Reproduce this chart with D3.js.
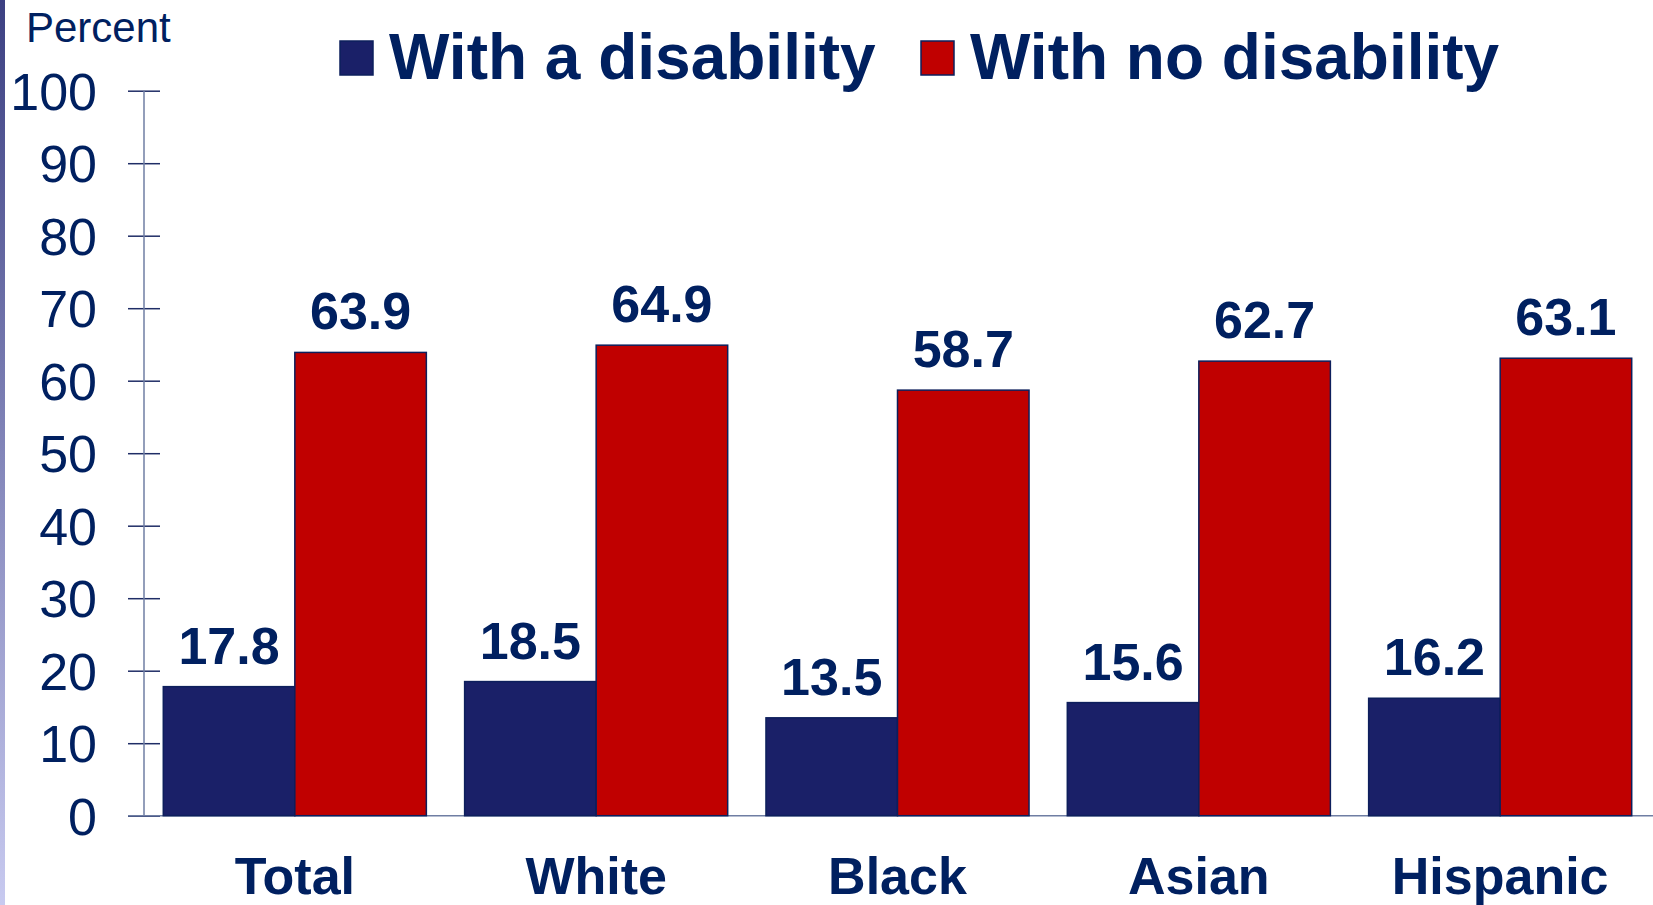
<!DOCTYPE html>
<html>
<head>
<meta charset="utf-8">
<script src="https://cdn.jsdelivr.net/npm/d3@7"></script>
<style>
  html, body { margin: 0; padding: 0; background: #ffffff; }
  svg { display: block; }
</style>
</head>
<body>
<svg id="chart" width="1653" height="905"></svg>
<script>
const categories = ["Total", "White", "Black", "Asian", "Hispanic"];
const seriesNames = ["With a disability", "With no disability"];
const withDisability = [17.8, 18.5, 13.5, 15.6, 16.2];
const withNoDisability = [63.9, 64.9, 58.7, 62.7, 63.1];
const yTicks = [0, 10, 20, 30, 40, 50, 60, 70, 80, 90, 100];
const yLabel = "Percent";

const colors = ["#1a2068", "#c00000"];
const textColor = "#002060";
const font = "'Liberation Sans', Arial, sans-serif";

const svg = d3.select("#chart");

// left gradient stripe
const defs = svg.append("defs");
const grad = defs.append("linearGradient").attr("id", "stripe").attr("x1", 0).attr("y1", 0).attr("x2", 0).attr("y2", 1);
grad.append("stop").attr("offset", "0%").attr("stop-color", "#3c4082");
grad.append("stop").attr("offset", "100%").attr("stop-color", "#c8caf0");
svg.append("rect").attr("x", 0).attr("y", 0).attr("width", 5).attr("height", 905).attr("fill", "url(#stripe)");

const axisX = 144;
const y = d3.scaleLinear().domain([0, 100]).range([815.7, 90.7]);
const x0 = d3.scaleBand().domain(categories).range([144, 1651]).paddingInner(0.127).paddingOuter(0.064);
const x1 = d3.scaleBand().domain([0, 1]).range([0, x0.bandwidth()]);

// y axis
const yAxis = svg.append("g").attr("transform", `translate(${axisX},0)`)
  .call(d3.axisLeft(y).tickValues(yTicks).tickSize(16).tickPadding(31).tickFormat(d3.format("d")));
yAxis.select(".domain").remove();
yAxis.selectAll(".tick line").attr("x1", -16).attr("x2", 16).attr("stroke", "#1f2d66").attr("stroke-width", 1.5);
yAxis.selectAll(".tick text").attr("fill", textColor).attr("font-family", font).attr("font-size", 52).attr("dy", "0.36em");
svg.append("line").attr("x1", axisX).attr("x2", axisX).attr("y1", y(100)).attr("y2", y(0))
  .attr("stroke", "#6f7ea3").attr("stroke-width", 1.5);
svg.append("line").attr("x1", 128).attr("x2", 1653).attr("y1", y(0)).attr("y2", y(0))
  .attr("stroke", "#6f7ea3").attr("stroke-width", 1.5);

svg.append("text").attr("x", 26).attr("y", 42).attr("fill", textColor)
  .attr("font-family", font).attr("font-size", 42).text(yLabel);

// bars
const data = categories.map((c, i) => ({ cat: c, vals: [withDisability[i], withNoDisability[i]] }));
const groups = svg.append("g").selectAll("g").data(data).join("g")
  .attr("transform", d => `translate(${x0(d.cat)},0)`);
groups.selectAll("rect").data(d => d.vals.map((v, k) => ({ v, k }))).join("rect")
  .attr("x", d => x1(d.k)).attr("width", x1.bandwidth())
  .attr("y", d => y(d.v)).attr("height", d => y(0) - y(d.v))
  .attr("fill", d => colors[d.k]).attr("stroke", "#0d1f5c").attr("stroke-width", 1.5);
groups.selectAll("text.val").data(d => d.vals.map((v, k) => ({ v, k }))).join("text")
  .attr("class", "val")
  .attr("x", d => x1(d.k) + x1.bandwidth() / 2).attr("y", d => y(d.v) - 23)
  .attr("text-anchor", "middle").attr("fill", textColor).attr("font-family", font)
  .attr("font-weight", "bold").attr("font-size", 52).text(d => d3.format(".1f")(d.v));

// category labels
svg.append("g").selectAll("text").data(categories).join("text")
  .attr("x", d => x0(d) + x0.bandwidth() / 2).attr("y", 894)
  .attr("text-anchor", "middle").attr("fill", textColor).attr("font-family", font)
  .attr("font-weight", "bold").attr("font-size", 52).text(d => d);

// legend
const legendX = [339, 920];
const leg = svg.append("g").selectAll("g").data(seriesNames).join("g")
  .attr("transform", (d, i) => `translate(${legendX[i]},0)`);
leg.append("rect").attr("x", 1).attr("y", 41).attr("width", 33).attr("height", 34)
  .attr("fill", (d, i) => colors[i]).attr("stroke", "#0d1f5c").attr("stroke-width", 1.5);
leg.append("text").attr("x", 50).attr("y", 79).attr("fill", textColor).attr("font-family", font)
  .attr("font-weight", "bold").attr("font-size", 64).text(d => d);
</script>
</body>
</html>
